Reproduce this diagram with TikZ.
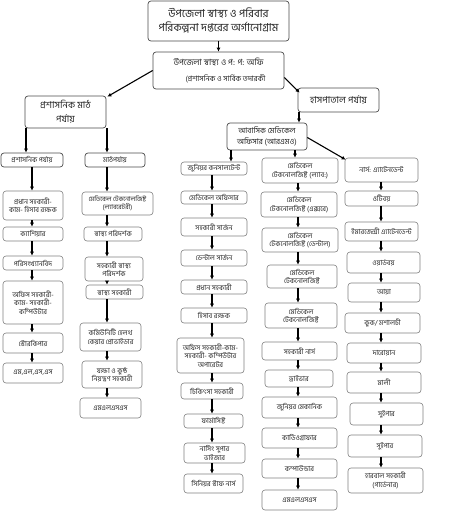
\documentclass[tikz,border=0pt]{standalone}
\usepackage{fontspec}
\newfontfamily\bn[Script=Bengali]{Hind Siliguri}
\usetikzlibrary{arrows.meta}
\tikzset{
  box/.style={draw=black!50, line width=0.6pt, rounded corners=3pt, fill=white, align=center,
     inner sep=1pt, font=\bn\fontsize{7}{8.3}\selectfont, text=black!85},
  dbox/.style={box, draw=black!70, line width=0.7pt},
  arr/.style={line width=1.1pt, -{Latex[length=4pt,width=4pt]}}
}
\newcommand\bx[7][box]{\node[#1, minimum width=\dimexpr#5pt-#3pt\relax, minimum height=\dimexpr#6pt-#4pt\relax] (#2) at ({(#3+#5)/2},{(#4+#6)/2}) {#7};}
\begin{document}
\begin{tikzpicture}[x=1pt,y=-1pt]
\useasboundingbox (0,0) rectangle (469,512);
% top levels
\bx[dbox,font=\bn\fontsize{11}{14}\selectfont]{T}{148}{1}{289}{41}{উপজেলা স্বাস্থ্য ও পরিবার\\পরিকল্পনা দপ্তরের অর্গানোগ্রাম}
\bx[dbox,font=\bn\fontsize{8.5}{16}\selectfont]{S}{153}{52}{284}{89}{উপজেলা স্বাস্থ্য ও প: প: অফি\\\hspace*{14pt}{\fontsize{7.5}{16}\selectfont(প্রশাসনিক ও সার্বিক তদারকী}}
\bx[dbox,font=\bn\fontsize{9.5}{14}\selectfont]{L}{25}{96}{106}{128}{প্রশাসনিক মাঠ\\পর্যায়}
\bx[dbox,font=\bn\fontsize{9.5}{11}\selectfont]{H}{298}{88}{379}{112}{হাসপাতাল পর্যায়}
\bx[dbox,font=\bn\fontsize{7.8}{10.5}\selectfont]{R}{227}{123}{307}{150}{আবাসিক মেডিকেল\\অফিসার (আরএমও)}
% column 1
\bx[dbox]{a0}{1}{153}{63}{167}{প্রশাসনিক পর্যায়}
\bx{a1}{3}{191}{63}{220}{প্রধান সহকারী-\\কাম- হিসাব রক্ষক}
\bx{a2}{3}{227}{63}{241}{ক্যাশিয়ার}
\bx{a3}{3}{256}{63}{270}{পরিসংখ্যানবিদ}
\bx{a4}{3}{281}{63}{324}{অফিস সহকারী-\\কাম- সহকারী-\\কম্পিউটার}
\bx{a5}{3}{333}{63}{353}{স্টোরকিপার}
\bx{a6}{3}{363}{63}{383}{এম,এল,এস,এস}
% column 2
\bx[dbox]{b0}{85}{153}{145}{167}{মাঠপর্যায়}
\bx[box,font=\bn\fontsize{6.5}{8}\selectfont]{b1}{82}{192}{153}{215}{মেডিকেল টেকনোলজিষ্ট\\(ল্যাবরেটরী)}
\bx{b2}{84}{227}{142}{241}{স্বাস্থ্য পরিদর্শক}
\bx{b3}{85}{257}{143}{281}{সহকারী স্বাস্থ্য\\পরিদর্শক}
\bx{b4}{86}{285}{143}{299}{স্বাস্থ্য সহকারী}
\bx{b5}{80}{323}{141}{351}{কমিউনিটি হেলথ\\কেয়ার প্রোভাইডার}
\bx{b6}{82}{361}{142}{388}{যক্ষা ও কুষ্ঠ\\নিয়ন্ত্রণ সহকারী}
\bx{b7}{80}{398}{141}{418}{এমএলএসএস}
% column 3
\bx{c1}{181}{162}{247}{175}{জুনিয়র কনসালটেন্ট}
\bx{c2}{181}{191}{247}{204}{মেডিকেল অফিসার}
\bx{c3}{181}{218}{247}{236}{সহকারী সার্জন}
\bx{c4}{181}{250}{247}{266}{ডেন্টাল সার্জন}
\bx{c5}{181}{280}{247}{294}{প্রধান সহকারী}
\bx{c6}{181}{308}{247}{323}{হিসাব রক্ষক}
\bx{c7}{177}{338}{244}{373}{অফিস সহকারী-কাম-\\সহকারী- কম্পিউটার\\অপারেটর}
\bx{c8}{181}{383}{243}{399}{চিকিৎসা সহকারী}
\bx{c9}{184}{414}{243}{428}{ফার্মাসিষ্ট}
\bx{c10}{184}{443}{245}{463}{নার্সিং সুপার\\ভাইজার}
\bx{c11}{184}{474}{243}{493}{সিনিয়র স্টাফ নার্স}
% column 4
\bx{d1}{262}{158}{338}{183}{মেডিকেল\\টেকনোলজিষ্ট (ল্যাব:)}
\bx{d2}{261}{192}{337}{217}{মেডিকেল\\টেকনোলজিষ্ট (এক্সরে)}
\bx{d3}{262}{228}{338}{252}{মেডিকেল\\টেকনোলজিষ্ট (ডেন্টাল)}
\bx{d4}{267}{265}{337}{288}{মেডিকেল\\টেকনোলজিষ্ট}
\bx{d5}{265}{303}{337}{328}{মেডিকেল\\টেকনোলজিষ্ট}
\bx{d6}{262}{342}{337}{360}{সহকারী নার্স}
\bx{d7}{265}{370}{333}{387}{ড্রাইভার}
\bx{d8}{262}{397}{337}{418}{জুনিয়র মেকানিক}
\bx{d9}{262}{428}{337}{448}{কার্ডিওগ্রাফার}
\bx{d10}{262}{459}{337}{478}{কম্পাউন্ডার}
\bx{d11}{262}{490}{337}{510}{এমএলএসএস}
% column 5
\bx{e1}{345}{158}{418}{182}{নার্স: এ্যাটেনডেন্ট}
\bx{e2}{345}{191}{418}{206}{ওটিবয়}
\bx{e3}{345}{222}{418}{241}{ইমারজেন্সী এ্যাটেনডেন্ট}
\bx{e4}{347}{252}{420}{273}{ওয়ার্ডবয়}
\bx{e5}{348}{283}{420}{302}{আয়া}
\bx{e6}{345}{313}{420}{333}{কুক/ মশালচী}
\bx{e7}{347}{343}{421}{363}{দারোয়ান}
\bx{e8}{347}{372}{421}{393}{মালী}
\bx{e9}{350}{403}{423}{425}{সুইপার}
\bx{e10}{348}{435}{422}{457}{সুইপার}
\bx{e11}{348}{468}{423}{493}{হারবাল সহকারী\\(গার্ডেনার)}
% column x positions
\coordinate (xa) at (32,0);
\coordinate (xaL) at (26,0);
\coordinate (xb) at (107,0);
\coordinate (xc) at (212,0);
\coordinate (xcR) at (231,0);
\coordinate (xd) at (298,0);
\coordinate (xdR) at (295,0);
\coordinate (xe) at (381,0);
\coordinate (xh) at (299,0);
% top arrows
\draw[arr] (T.south) -- (S.north);
\draw[arr] (S.west) -- ([xshift=1pt,yshift=-1pt]L.north east);
\draw[arr] ([yshift=-7pt]S.east) -- ([xshift=2pt,yshift=-5pt]H.north west);
\draw[arr] (H.south -| xh) -- (R.north -| xh);
\draw[arr] (L.south -| xaL) -- (a0.north -| xaL);
\draw[arr] (L.south -| xb) -- (b0.north -| xb);
\draw[arr] (R.south -| xcR) -- (c1.north -| xcR);
\draw[arr] (R.south -| xdR) -- (d1.north -| xdR);
\draw[arr] ([yshift=-1pt]R.east) -- ([xshift=1pt,yshift=-2pt]e1.north west);
% column arrows
\foreach \p/\q in {a0/a1,a1/a2,a2/a3,a3/a4,a4/a5,a5/a6}
  \draw[arr] (\p.south -| xa) -- (\q.north -| xa);
\foreach \p/\q in {b0/b1,b1/b2,b2/b3,b3/b4,b4/b5,b5/b6,b6/b7}
  \draw[arr] (\p.south -| xb) -- (\q.north -| xb);
\foreach \p/\q in {c1/c2,c2/c3,c3/c4,c4/c5,c5/c6,c6/c7,c7/c8,c8/c9,c9/c10,c10/c11}
  \draw[arr] (\p.south -| xc) -- (\q.north -| xc);
\foreach \p/\q in {d1/d2,d2/d3,d3/d4,d4/d5,d5/d6,d6/d7,d7/d8,d8/d9,d9/d10,d10/d11}
  \draw[arr] (\p.south -| xd) -- (\q.north -| xd);
\foreach \p/\q in {e1/e2,e2/e3,e3/e4,e4/e5,e5/e6,e6/e7,e7/e8,e8/e9,e9/e10,e10/e11}
  \draw[arr] (\p.south -| xe) -- (\q.north -| xe);
\end{tikzpicture}
\end{document}
